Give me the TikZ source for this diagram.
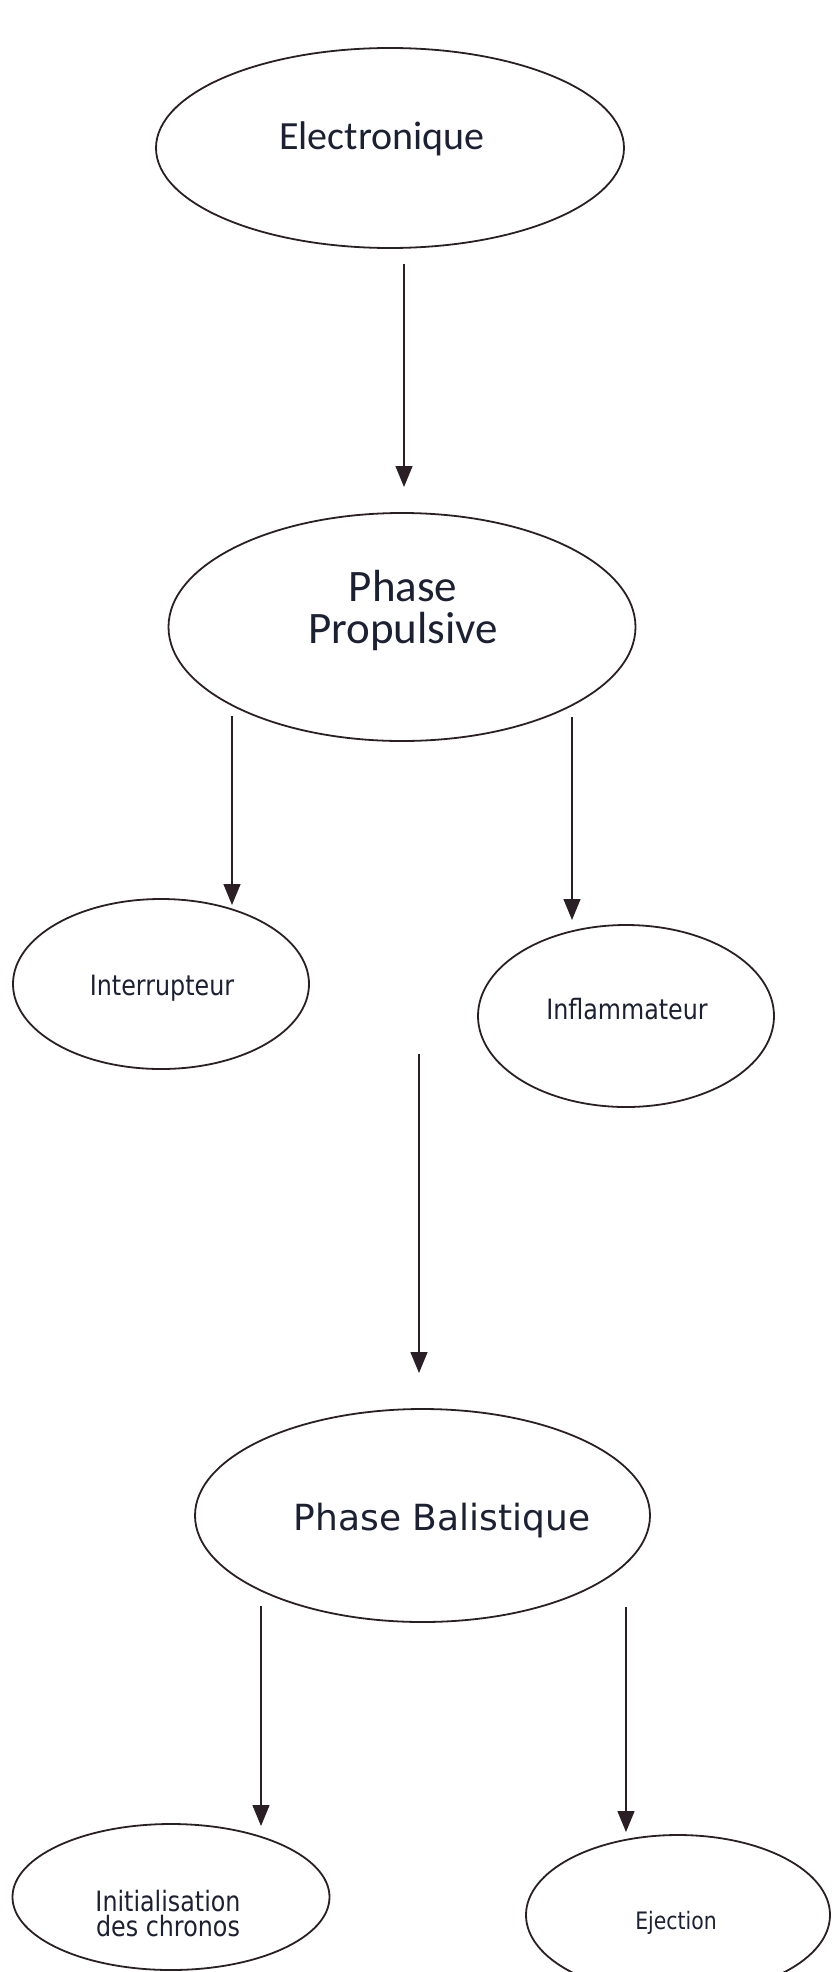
\documentclass[tikz,border=0pt]{standalone}
\usepackage{fontspec}
\setmainfont{Carlito}
\newfontfamily\fcal{Carlito}
\newfontfamily\fdv{DejaVu Sans}
\newfontfamily\fnar[FakeStretch=0.85]{DejaVu Sans}
\usetikzlibrary{shapes.geometric,arrows.meta}
\definecolor{ink}{HTML}{2A1F24}
\definecolor{txt}{HTML}{1C2033}
\begin{document}
\begin{tikzpicture}[x=1pt,y=-1pt,
  oval/.style={ellipse,draw=ink,line width=1.8pt,inner sep=0pt},
  lab/.style={text=txt,inner sep=0pt,align=center,anchor=base},
  big/.style={font=\fcal\fontsize{40}{42}\selectfont},
  prop/.style={font=\fcal\fontsize{45}{42}\selectfont},
  bal/.style={font=\fdv\fontsize{36}{40}\selectfont},
  small/.style={font=\fnar\fontsize{28}{25}\selectfont},
  tiny/.style={font=\fnar\fontsize{24}{26}\selectfont},
  conn/.style={draw=ink,line width=1.4pt,-{Triangle[length=21pt,width=17pt]}}]
\useasboundingbox (0,0) rectangle (834,1972);
\clip (0,0) rectangle (834,1972);
% ellipses
\node[oval,minimum width=468pt,minimum height=200pt] (elec) at (390,148) {};
\node[oval,minimum width=467pt,minimum height=228pt] (pp) at (402,627) {};
\node[oval,minimum width=296pt,minimum height=170pt] (intr) at (161,984) {};
\node[oval,minimum width=296pt,minimum height=182pt] (infl) at (626,1016) {};
\node[oval,minimum width=455pt,minimum height=213pt] (pb) at (422.5,1515.5) {};
\node[oval,minimum width=317pt,minimum height=146pt] (init) at (171,1897) {};
\node[oval,minimum width=304pt,minimum height=160pt] (ej) at (678,1915) {};
% labels
\node[lab,big] (elec-t) at (382,150) {Electronique};
\node[lab,prop] (pp-t) at (403,643) {Phase\\Propulsive};
\node[lab,bal] (pb-t) at (442,1530) {Phase Balistique};
\node[lab,small] (intr-t) at (162,995) {Interrupteur};
\node[lab,small] (infl-t) at (627,1019) {Inflammateur};
\node[lab,small] (init-t) at (168,1936) {Initialisation\\des chronos};
\node[lab,tiny] (ej-t) at (676,1929) {Ejection};
% connectors
\coordinate (a1s) at (404,264);  \coordinate (a1e) at (404,487);
\coordinate (a2s) at (232,716);  \coordinate (a2e) at (232,905);
\coordinate (a3s) at (572,717);  \coordinate (a3e) at (572,920);
\coordinate (a4s) at (419,1054); \coordinate (a4e) at (419,1373);
\coordinate (a5s) at (261,1606); \coordinate (a5e) at (261,1826);
\coordinate (a6s) at (626,1607); \coordinate (a6e) at (626,1832);
\draw[conn] (a1s) -- (a1e);
\draw[conn] (a2s) -- (a2e);
\draw[conn] (a3s) -- (a3e);
\draw[conn] (a4s) -- (a4e);
\draw[conn] (a5s) -- (a5e);
\draw[conn] (a6s) -- (a6e);
\end{tikzpicture}
\end{document}
